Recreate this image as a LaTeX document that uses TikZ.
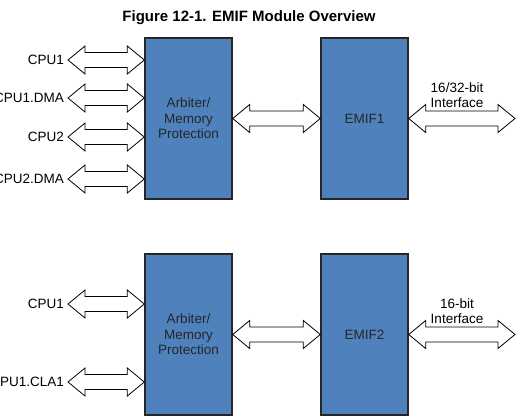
\documentclass[tikz,border=0pt]{standalone}
\usepackage{fontspec}
\setmainfont{Liberation Sans}
\usetikzlibrary{calc}

\definecolor{emifblue}{HTML}{4F81BD}
\definecolor{edgegray}{HTML}{262626}

\tikzset{
  block/.style={draw=edgegray, line width=1.4pt, fill=emifblue,
    minimum width=87pt, minimum height=161pt, inner sep=0pt,
    align=center, text=edgegray, font=\fontsize{13.5}{15.5}\selectfont},
  lbl/.style={inner xsep=4pt, inner ysep=0pt, align=center,
    font=\fontsize{13.5}{14.5}\selectfont},
  fatarrow/.style={draw=black, fill=white, line width=0.8pt, line join=miter},
}

% hollow two-headed bus arrow between two points
\newcommand{\busarrow}[2]{%
  \draw[fatarrow] let \p1=(#1), \p2=(#2) in
    (\x1,\y1) -- (\x1+17pt,\y1+14pt) -- (\x1+17pt,\y1+7.5pt) -- (\x2-17pt,\y2+7.5pt)
    -- (\x2-17pt,\y2+14pt) -- (\x2,\y2) -- (\x2-17pt,\y2-14pt) -- (\x2-17pt,\y2-7.5pt)
    -- (\x1+17pt,\y1-7.5pt) -- (\x1+17pt,\y1-14pt) -- cycle;}

\begin{document}
\begin{tikzpicture}[x=1pt,y=-1pt]
  \useasboundingbox (0,0) rectangle (527,416);
  \clip (0,0) rectangle (527,416);
  \node[font=\bfseries\fontsize{15}{17}\selectfont] (title) at (249,18)
    {Figure 12-1. EMIF Module Overview};

  % EMIF1
  \node[block] (arb1) at (188.5,118.5) {Arbiter/\\Memory\\Protection};
  \node[block] (emif1) at (364.5,118.5) {EMIF1};
  \node[lbl,anchor=east] (cpu1) at (68,60) {CPU1};
  \node[lbl,anchor=east] (cpu1dma) at (68,98) {CPU1.DMA};
  \node[lbl,anchor=east] (cpu2) at (68,137) {CPU2};
  \node[lbl,anchor=east] (cpu2dma) at (68,179) {CPU2.DMA};
  \coordinate (ext1) at (515,118.5);
  \node[lbl] (bus1) at (457,95) {16/32-bit\\Interface};

  \busarrow{cpu1.east}{arb1.west |- cpu1.east}
  \busarrow{cpu1dma.east}{arb1.west |- cpu1dma.east}
  \busarrow{cpu2.east}{arb1.west |- cpu2.east}
  \busarrow{cpu2dma.east}{arb1.west |- cpu2dma.east}
  \busarrow{arb1.east}{emif1.west}
  \busarrow{emif1.east}{ext1}

  % EMIF2
  \node[block] (arb2) at (188.5,334.5) {Arbiter/\\Memory\\Protection};
  \node[block] (emif2) at (364.5,334.5) {EMIF2};
  \node[lbl,anchor=east] (cpu1b) at (68,304) {CPU1};
  \node[lbl,anchor=east] (cla1) at (68,382) {CPU1.CLA1};
  \coordinate (ext2) at (515,334.5);
  \node[lbl] (bus2) at (457,311) {16-bit\\Interface};

  \busarrow{cpu1b.east}{arb2.west |- cpu1b.east}
  \busarrow{cla1.east}{arb2.west |- cla1.east}
  \busarrow{arb2.east}{emif2.west}
  \busarrow{emif2.east}{ext2}
\end{tikzpicture}
\end{document}
